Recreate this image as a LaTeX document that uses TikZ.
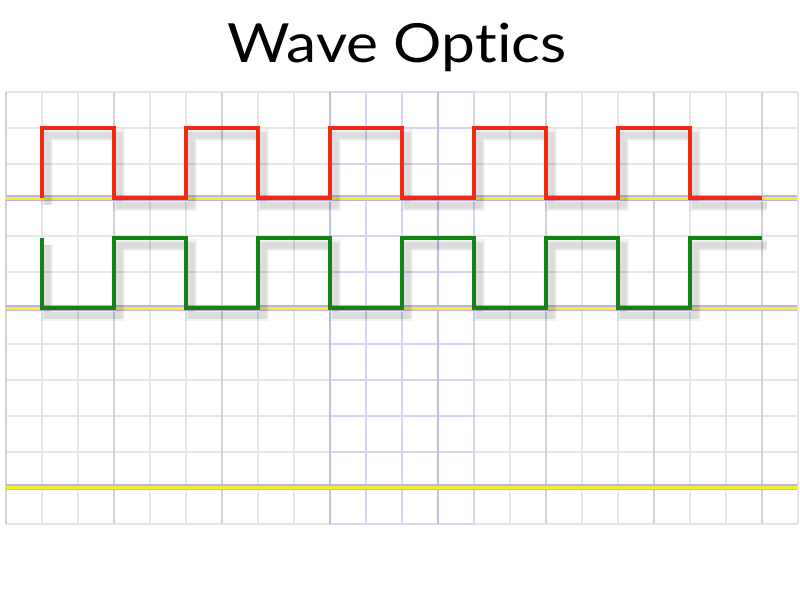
\documentclass[tikz,border=0pt]{standalone}
\usepackage{fontspec}
\setmainfont{Lato}[Ligatures=NoCommon]
\definecolor{gridminor}{RGB}{230,230,233}
\definecolor{gridmajor}{RGB}{210,210,214}
\definecolor{gridblue}{RGB}{214,214,238}
\definecolor{gridbluemajor}{RGB}{192,192,222}
\definecolor{wavered}{RGB}{240,40,20}
\definecolor{wavegreen}{RGB}{20,130,20}
\definecolor{axisyellow}{RGB}{240,240,40}
\definecolor{axislav}{RGB}{195,175,225}
\tikzset{
  minorline/.style={draw=gridminor, line width=1.5pt},
  majorline/.style={draw=gridmajor, line width=1.5pt},
  blueline/.style={draw=gridblue, line width=1.5pt},
  bluemajor/.style={draw=gridbluemajor, line width=1.5pt},
  axisedge/.style={draw=axislav, line width=5.5pt},
  axiscore/.style={draw=axisyellow, line width=3pt},
  shadowA/.style={draw=black, opacity=0.05, line width=12pt, line join=miter},
  shadowB/.style={draw=black, opacity=0.09, line width=7pt, line join=miter},
  redwave/.style={draw=wavered, line width=3.8pt, line join=miter},
  greenwave/.style={draw=wavegreen, line width=3.8pt, line join=miter},
  titletext/.style={font=\fontsize{54}{60}\selectfont, anchor=base, inner sep=0pt, xscale=1.12}
}
\begin{document}
\begin{tikzpicture}[x=1pt,y=-1pt]
\useasboundingbox (0,0) rectangle (800,600);
\fill[white] (0,0) rectangle (800,600);
% minor grid
\foreach \k in {0,...,22}{
  \pgfmathsetmacro{\xx}{6+36*\k}
  \draw[minorline] (\xx,92) -- (\xx,524);
}
\foreach \k in {0,...,12}{
  \pgfmathsetmacro{\yy}{92+36*\k}
  \draw[minorline] (6,\yy) -- (797,\yy);
}
% major vertical lines
\foreach \xx in {6,114,222,546,654,762}{
  \draw[majorline] (\xx,92) -- (\xx,524);
}
% highlighted column
\foreach \yy in {92,128,164,200,236,272,308,344,380,416,452,488,524}{
  \draw[blueline] (330,\yy) -- (474,\yy);
}
\foreach \xx in {366,402,474}{
  \draw[blueline] (\xx,92) -- (\xx,524);
}
\foreach \xx in {330,438}{
  \draw[bluemajor] (\xx,92) -- (\xx,524);
}
% axes
\foreach \yy in {198,308,487}{
  \draw[axisedge] (6,\yy) -- (797,\yy);
  \draw[axiscore] (6,\yy) -- (797,\yy);
}
% waves
\def\redpath{(42,198) -- (42,128) -- (114,128) -- (114,198) -- (186,198) -- (186,128) -- (258,128) -- (258,198) -- (330,198) -- (330,128) -- (402,128) -- (402,198) -- (474,198) -- (474,128) -- (546,128) -- (546,198) -- (618,198) -- (618,128) -- (690,128) -- (690,198) -- (762,198)}
\def\greenpath{(42,238) -- (42,308) -- (114,308) -- (114,238) -- (186,238) -- (186,308) -- (258,308) -- (258,238) -- (330,238) -- (330,308) -- (402,308) -- (402,238) -- (474,238) -- (474,308) -- (546,308) -- (546,238) -- (618,238) -- (618,308) -- (690,308) -- (690,238) -- (762,238)}
\begin{scope}[shift={(5,7)}]
  \draw[shadowA] \redpath;
  \draw[shadowB] \redpath;
  \draw[shadowA] \greenpath;
  \draw[shadowB] \greenpath;
\end{scope}
\draw[redwave] \redpath;
\draw[greenwave] \greenpath;
% title
\node[titletext] (title) at (397,62) {Wave Optics};
\end{tikzpicture}
\end{document}
